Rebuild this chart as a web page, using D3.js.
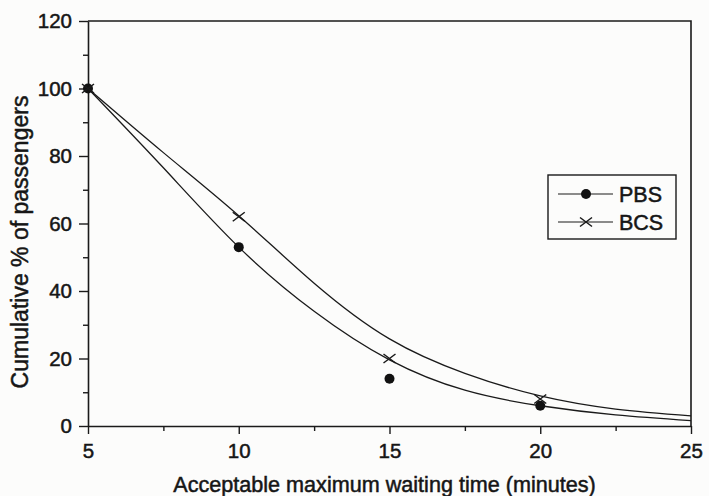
<!DOCTYPE html>
<html>
<head>
<meta charset="utf-8">
<script src="https://cdn.jsdelivr.net/npm/d3@7"></script>
<style>
  html, body { margin: 0; padding: 0; background: #fcfcfb; }
  svg { display: block; }
  text { font-family: "Liberation Sans", Arial, sans-serif; fill: #161616; }
</style>
</head>
<body>
<svg id="chart" width="709" height="496"></svg>
<script>
// observed points
const minutes = [5, 10, 15, 20];
const pbsValues = [100, 53, 14, 6];
const bcsValues = [100, 62, 20, 8];

// fitted curves
const fitMinutes = [5, 7.5, 10, 12.5, 15, 17.5, 20, 22.5, 25];
const pbsFit = [100, 76.5, 53, 34, 19.6, 10.6, 6.0, 3.3, 1.6];
const bcsFit = [100, 81, 62.3, 42.3, 25.8, 15.6, 8.9, 5.0, 3.0];

const xTicks = [5, 10, 15, 20, 25];
const xMinor = [7.5, 12.5, 17.5, 22.5];
const yTicks = [0, 20, 40, 60, 80, 100, 120];
const yMinor = [10, 30, 50, 70, 90, 110];

const seriesNames = ["PBS", "BCS"];

const svg = d3.select("#chart");

const margin = { top: 21, right: 18, bottom: 70, left: 88 },
  width = 709,
  height = 496,
  innerRight = width - margin.right,
  innerBottom = height - margin.bottom;

const xScale = d3.scaleLinear().domain([5, 25]).range([margin.left, innerRight]);
const yScale = d3.scaleLinear().domain([0, 120]).range([innerBottom, margin.top]);

const ink = "#1a1a1a";
const textStroke = 0.5;

// minor ticks first
svg
  .append("g")
  .attr("transform", `translate(0,${innerBottom})`)
  .call(d3.axisBottom(xScale).tickValues(xMinor).tickSize(5).tickFormat(""))
  .call((g) => g.select(".domain").remove())
  .call((g) => g.selectAll("line").attr("stroke", ink).attr("stroke-width", 1.4));

svg
  .append("g")
  .attr("transform", `translate(${margin.left},0)`)
  .call(d3.axisLeft(yScale).tickValues(yMinor).tickSize(5).tickFormat(""))
  .call((g) => g.select(".domain").remove())
  .call((g) => g.selectAll("line").attr("stroke", ink).attr("stroke-width", 1.4));

// major axes
const gx = svg
  .append("g")
  .attr("transform", `translate(0,${innerBottom})`)
  .call(d3.axisBottom(xScale).tickValues(xTicks).tickSize(8).tickPadding(9).tickSizeOuter(0));

const gy = svg
  .append("g")
  .attr("transform", `translate(${margin.left},0)`)
  .call(d3.axisLeft(yScale).tickValues(yTicks).tickSize(9).tickPadding(7).tickSizeOuter(0));

[gx, gy].forEach((g) => {
  g.select(".domain").attr("stroke", ink).attr("stroke-width", 1.6);
  g.selectAll("line").attr("stroke", ink).attr("stroke-width", 1.4);
  g.selectAll("text")
    .style("font-family", '"Liberation Sans", Arial, sans-serif')
    .style("font-size", "20.5px")
    .attr("fill", "#161616")
    .attr("stroke", "#161616")
    .attr("stroke-width", textStroke);
});

// top and right frame
svg
  .append("path")
  .attr("d", `M${margin.left},${margin.top}H${innerRight}V${innerBottom}`)
  .attr("fill", "none")
  .attr("stroke", ink)
  .attr("stroke-width", 1.6);

// fitted curves
const line = d3
  .line()
  .curve(d3.curveNatural)
  .x((d) => xScale(d[0]))
  .y((d) => yScale(d[1]));

[pbsFit, bcsFit].forEach((fit) => {
  svg
    .append("path")
    .datum(fitMinutes.map((m, i) => [m, fit[i]]))
    .attr("fill", "none")
    .attr("stroke", ink)
    .attr("stroke-width", 1.3)
    .attr("d", line);
});

// markers
const drawCross = (g, cx, cy) => {
  g.append("path")
    .attr("d", `M${cx - 6},${cy - 4.5}L${cx + 6},${cy + 4.5}M${cx - 6},${cy + 4.5}L${cx + 6},${cy - 4.5}`)
    .attr("stroke", ink)
    .attr("stroke-width", 1.5)
    .attr("fill", "none");
};

svg
  .append("g")
  .selectAll("circle")
  .data(minutes.map((m, i) => [m, pbsValues[i]]))
  .join("circle")
  .attr("cx", (d) => xScale(d[0]))
  .attr("cy", (d) => yScale(d[1]))
  .attr("r", 5)
  .attr("fill", "#111");

const gCross = svg.append("g");
minutes.forEach((m, i) => drawCross(gCross, xScale(m), yScale(bcsValues[i])));

// legend
const legend = svg.append("g").attr("transform", "translate(548,175)");

legend
  .append("rect")
  .attr("width", 128)
  .attr("height", 64)
  .attr("fill", "none")
  .attr("stroke", ink)
  .attr("stroke-width", 1.4);

seriesNames.forEach((name, i) => {
  const y = 19 + i * 28;
  legend
    .append("line")
    .attr("x1", 10)
    .attr("x2", 65)
    .attr("y1", y)
    .attr("y2", y)
    .attr("stroke", ink)
    .attr("stroke-width", 1.2);
  if (i === 0) {
    legend.append("circle").attr("cx", 38).attr("cy", y).attr("r", 5).attr("fill", "#111");
  } else {
    drawCross(legend, 38, y);
  }
  legend
    .append("text")
    .attr("x", 71)
    .attr("y", y)
    .attr("dy", "0.36em")
    .style("font-size", "21.5px")
    .attr("stroke", "#161616")
    .attr("stroke-width", textStroke)
    .text(name);
});

// axis titles
svg
  .append("text")
  .attr("x", 384.5)
  .attr("y", 492)
  .attr("text-anchor", "middle")
  .style("font-size", "21.6px")
  .attr("stroke", "#161616")
  .attr("stroke-width", textStroke)
  .text("Acceptable maximum waiting time (minutes)");

svg
  .append("text")
  .attr("transform", "translate(28,242) rotate(-90)")
  .attr("text-anchor", "middle")
  .style("font-size", "23px")
  .attr("stroke", "#161616")
  .attr("stroke-width", textStroke)
  .text("Cumulative % of passengers");
</script>
</body>
</html>
